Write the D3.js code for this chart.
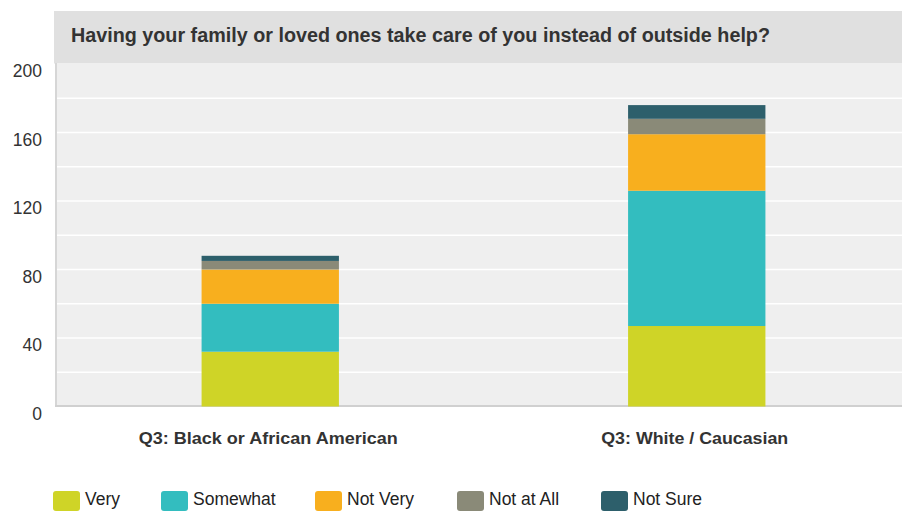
<!DOCTYPE html>
<html><head><meta charset="utf-8">
<script src="https://cdn.jsdelivr.net/npm/d3@7"></script>
<style>body{margin:0;background:#fff;}svg{display:block;font-family:"Liberation Sans",Arial,sans-serif;}</style>
</head><body>
<svg id="c" width="902" height="513"></svg>
<script>
const title = "Having your family or loved ones take care of you instead of outside help?";
const categories = ["Q3: Black or African American", "Q3: White / Caucasian"];
const seriesNames = ["Very", "Somewhat", "Not Very", "Not at All", "Not Sure"];
const very = [32, 47];
const somewhat = [28, 79];
const notVery = [20, 33];
const notAtAll = [5, 9];
const notSure = [3, 8];
const colors = ["#CFD427", "#33BDBF", "#F8AF1E", "#8A8A78", "#2D5F6B"];
const yTicks = [0, 40, 80, 120, 160, 200];
const gridValues = [20, 40, 60, 80, 100, 120, 140, 160, 180];

const seriesValues = [very, somewhat, notVery, notAtAll, notSure];
const rows = categories.map((c, i) => {
  const r = {cat: c};
  seriesNames.forEach((s, j) => r[s] = seriesValues[j][i]);
  return r;
});
const stacked = d3.stack().keys(seriesNames)(rows);

const svg = d3.select("#c");
const plotL = 57, plotR = 902, plotT = 63, plotB = 406;
const y = d3.scaleLinear().domain([0, 200]).range([406.5, 64]);
const x = d3.scaleBand().domain(categories).range([57, 910]).paddingInner(0.678).paddingOuter(0.339);

// title band
svg.append("rect").attr("x", 54).attr("y", 11).attr("width", 902 - 54).attr("height", 52.5).attr("fill", "#E0E0E0");
svg.append("text").attr("x", 71).attr("y", 42).attr("font-size", 19.5).attr("font-weight", "bold")
  .attr("fill", "#333").attr("textLength", 699).attr("lengthAdjust", "spacingAndGlyphs").text(title);

// plot background
svg.append("rect").attr("x", plotL).attr("y", plotT).attr("width", plotR - plotL).attr("height", plotB - plotT).attr("fill", "#EFEFEF");
// gridlines
svg.append("g").selectAll("line").data(gridValues).join("line")
  .attr("x1", plotL).attr("x2", plotR).attr("y1", d => y(d)).attr("y2", d => y(d))
  .attr("stroke", "#fff").attr("stroke-width", 1.5);
// axes lines
svg.append("line").attr("x1", 56).attr("x2", 56).attr("y1", plotT).attr("y2", 407).attr("stroke", "#D6D6D6").attr("stroke-width", 2);
svg.append("line").attr("x1", 55).attr("x2", plotR).attr("y1", 406).attr("y2", 406).attr("stroke", "#D0D0D0").attr("stroke-width", 2);

// y tick labels
svg.append("g").selectAll("text").data(yTicks).join("text")
  .attr("x", 42).attr("y", d => y(d) + 7).attr("text-anchor", "end").attr("dominant-baseline", "central")
  .attr("font-size", 17.5).attr("fill", "#333").text(d => d);

// bars
svg.append("g").selectAll("g").data(stacked).join("g")
  .attr("fill", (d, i) => colors[i])
  .selectAll("rect").data(d => d).join("rect")
  .attr("x", d => x(d.data.cat)).attr("width", x.bandwidth())
  .attr("y", d => y(d[1])).attr("height", d => y(d[0]) - y(d[1]));

// category labels
const catWidths = [259, 187];
svg.append("g").selectAll("text").data(categories).join("text")
  .attr("x", (d, i) => x(d) + x.bandwidth() / 2 - catWidths[i] / 2 - 2).attr("y", 443.5)
  .attr("font-size", 16).attr("font-weight", "bold").attr("fill", "#333")
  .attr("textLength", (d, i) => catWidths[i]).attr("lengthAdjust", "spacingAndGlyphs").text(d => d);

// legend
const legX = [53, 161, 315, 457, 601];
const lg = svg.append("g").selectAll("g").data(seriesNames).join("g")
  .attr("transform", (d, i) => `translate(${legX[i]},491)`);
lg.append("rect").attr("width", 27).attr("height", 20).attr("rx", 3).attr("fill", (d, i) => colors[i]);
lg.append("text").attr("x", 32).attr("y", 13.5).attr("font-size", 17.5).attr("fill", "#222").text(d => d);
</script>
</body></html>
